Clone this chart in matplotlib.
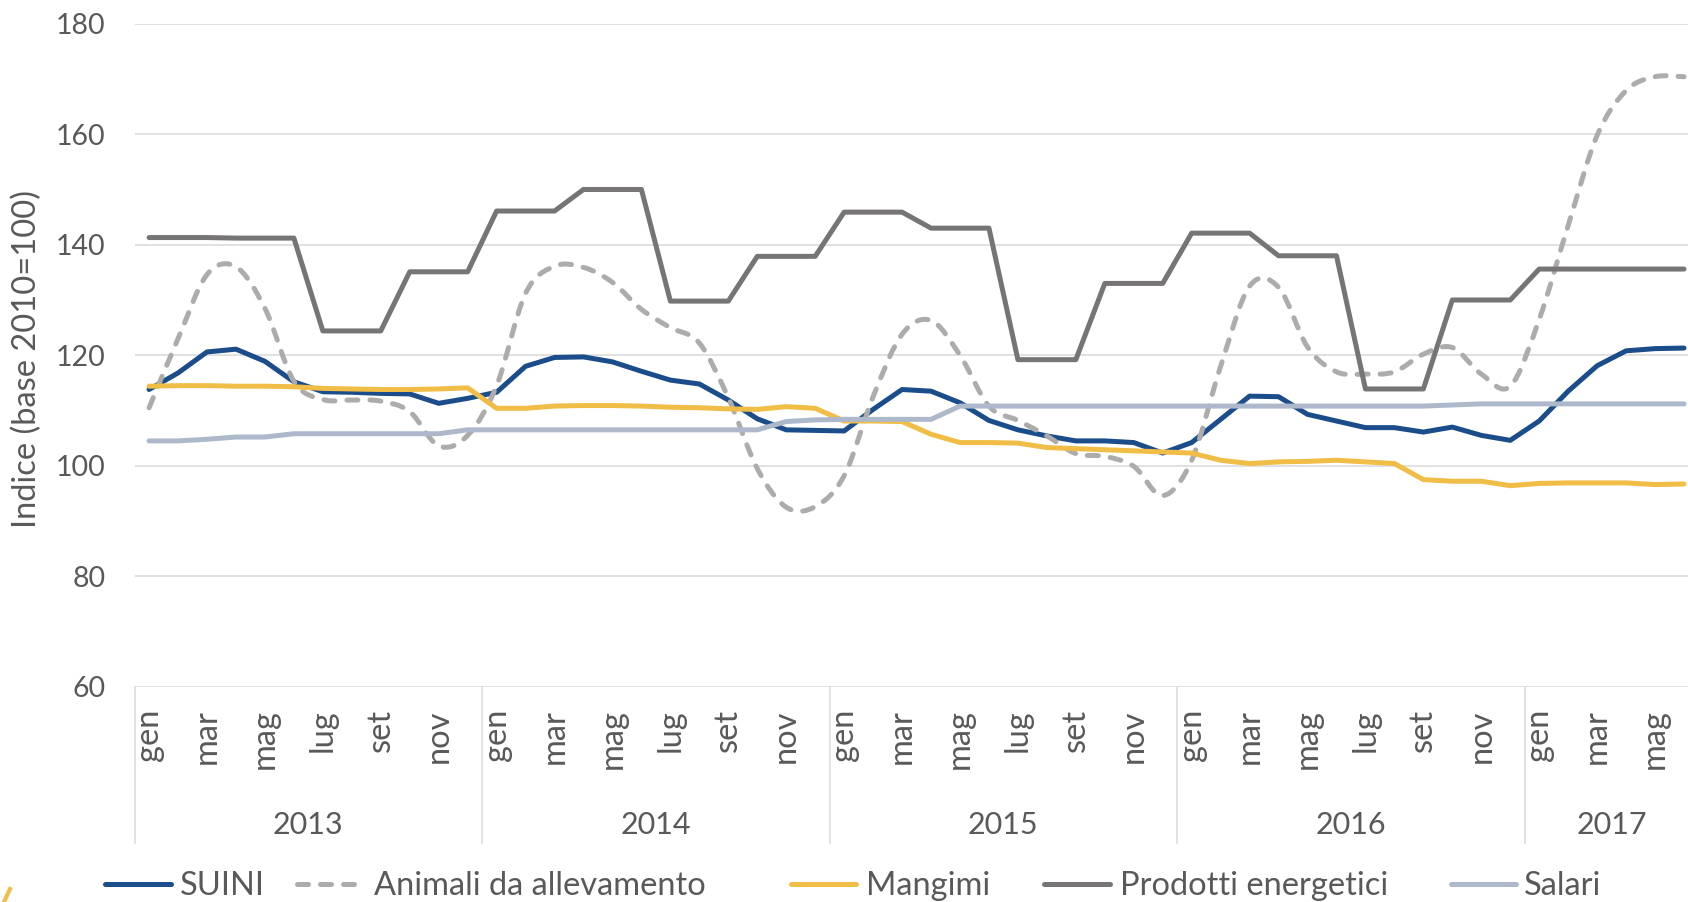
import matplotlib
matplotlib.use("Agg")
import matplotlib.pyplot as plt
from matplotlib.lines import Line2D
from matplotlib.path import Path
from matplotlib.patches import PathPatch

plt.rcParams['font.family'] = ['Lato', 'DejaVu Sans']

# --- data (indici, base 2010=100), gen 2013 - giu 2017 ---
years = ['2013', '2014', '2015', '2016', '2017']
month_names = ['gen', 'feb', 'mar', 'apr', 'mag', 'giu',
               'lug', 'ago', 'set', 'ott', 'nov', 'dic']

suini = [113.8, 116.8, 120.6, 121.1, 118.9, 115.2, 113.4, 113.3, 113.1, 113.0, 111.3, 112.2,
         113.3, 118.0, 119.6, 119.7, 118.8, 117.1, 115.5, 114.8, 111.9, 108.5, 106.5, 106.4,
         106.3, 110.2, 113.8, 113.5, 111.4, 108.2, 106.5, 105.4, 104.5, 104.5, 104.2, 102.3,
         104.2, 108.4, 112.6, 112.5, 109.3, 108.1, 106.9, 106.9, 106.1, 107.0, 105.5, 104.6,
         108.1, 113.5, 118.1, 120.8, 121.2, 121.3]

animali = [110.5, 123.0, 134.6, 136.0, 128.5, 115.3, 112.0, 111.9, 111.7, 109.8, 103.6, 105.5,
           114.5, 131.2, 136.1, 135.9, 133.2, 128.3, 125.0, 122.2, 112.3, 99.5, 92.5, 92.6,
           98.2, 112.5, 123.8, 126.3, 120.0, 110.8, 108.2, 105.4, 102.2, 101.7, 99.9, 94.6,
           101.0, 118.0, 132.5, 132.3, 121.5, 117.0, 116.6, 117.0, 120.2, 121.4, 116.6, 114.4,
           126.5, 143.5, 159.8, 167.9, 170.4, 170.4]

mangimi = [114.4, 114.5, 114.5, 114.4, 114.4, 114.3, 114.0, 113.9, 113.8, 113.8, 113.9, 114.1,
           110.4, 110.4, 110.8, 110.9, 110.9, 110.8, 110.6, 110.5, 110.3, 110.2, 110.7, 110.4,
           108.1, 108.1, 108.0, 105.7, 104.2, 104.2, 104.1, 103.3, 103.1, 102.9, 102.7, 102.5,
           102.3, 101.0, 100.4, 100.7, 100.8, 101.0, 100.7, 100.4, 97.5, 97.2, 97.2, 96.4,
           96.8, 96.9, 96.9, 96.9, 96.6, 96.7]

energetici = [141.3, 141.3, 141.3, 141.2, 141.2, 141.2, 124.4, 124.4, 124.4, 135.1, 135.1, 135.1,
              146.1, 146.1, 146.1, 150.0, 150.0, 150.0, 129.8, 129.8, 129.8, 137.9, 137.9, 137.9,
              145.9, 145.9, 145.9, 143.0, 143.0, 143.0, 119.2, 119.2, 119.2, 133.0, 133.0, 133.0,
              142.1, 142.1, 142.1, 138.0, 138.0, 138.0, 113.9, 113.9, 113.9, 130.0, 130.0, 130.0,
              135.6, 135.6, 135.6, 135.6, 135.6, 135.6]

salari = [104.5, 104.5, 104.8, 105.2, 105.2, 105.8, 105.8, 105.8, 105.8, 105.8, 105.8, 106.5,
          106.5, 106.5, 106.5, 106.5, 106.5, 106.5, 106.5, 106.5, 106.5, 106.5, 108.0, 108.3,
          108.4, 108.4, 108.4, 108.4, 110.8, 110.8, 110.8, 110.8, 110.8, 110.8, 110.8, 110.8,
          110.8, 110.8, 110.8, 110.8, 110.8, 110.8, 110.8, 110.8, 110.8, 111.0, 111.2, 111.2,
          111.2, 111.2, 111.2, 111.2, 111.2, 111.2]

names = ['SUINI', 'Animali da allevamento', 'Mangimi', 'Prodotti energetici', 'Salari']

c_suini = '#1B4D8A'
c_animali = '#AEABAB'
c_mangimi = '#F0BD46'
c_energ = '#767474'
c_salari = '#ADB9CB'
c_grid = '#D9D9D9'
c_text = '#595959'

n = len(suini)
x = list(range(n))
labels = [month_names[i % 12] for i in x]


def smooth_path(xs, ys):
    # bezier come la "linea smussata" di Excel
    verts = [(xs[0], ys[0])]
    codes = [Path.MOVETO]
    m = len(xs)
    for k in range(m - 1):
        xa, ya = (xs[k - 1], ys[k - 1]) if k > 0 else (xs[k], ys[k])
        xb, yb = (xs[k + 2], ys[k + 2]) if k + 2 < m else (xs[k + 1], ys[k + 1])
        c1 = (xs[k] + (xs[k + 1] - xa) / 6, ys[k] + (ys[k + 1] - ya) / 6)
        c2 = (xs[k + 1] - (xb - xs[k]) / 6, ys[k + 1] - (yb - ys[k]) / 6)
        verts += [c1, c2, (xs[k + 1], ys[k + 1])]
        codes += [Path.CURVE4] * 3
    return Path(verts, codes)


W, H = 1688, 902
fig = plt.figure(figsize=(W / 100, H / 100), dpi=100)
left, right = 134.6, 1698.5
top, bottom = 23.7, 686.8
ax = fig.add_axes([left / W, 1 - bottom / H, (right - left) / W, (bottom - top) / H])

lw = 3.6
dash = (0, (2.2, 2.4))
solid = dict(lw=lw, solid_capstyle='round', solid_joinstyle='round')
ax.plot(x, suini, color=c_suini, zorder=3, **solid)
ax.add_patch(PathPatch(smooth_path(x, animali), fill=False, edgecolor=c_animali, lw=lw,
                       linestyle=dash, capstyle='round', zorder=4))
ax.plot(x, mangimi, color=c_mangimi, zorder=5, **solid)
ax.plot(x, energetici, color=c_energ, zorder=6, **solid)
ax.plot(x, salari, color=c_salari, zorder=7, **solid)

ax.set_xlim(-0.5, n - 0.5)
ax.set_ylim(60, 180)
ax.set_yticks(range(60, 181, 20))
ax.grid(axis='y', color=c_grid, lw=1.1)
ax.set_axisbelow(True)
for s in ['top', 'right', 'left', 'bottom']:
    ax.spines[s].set_visible(False)

ax.tick_params(axis='y', length=0, pad=21, labelsize=20.5, labelcolor=c_text)
ax.set_xticks(x[::2])
ax.set_xticklabels(labels[::2], rotation=90, fontsize=23.5, color=c_text)
ax.tick_params(axis='x', length=0, pad=16)

fig.text(27 / W, 1 - 359 / H, 'Indice (base 2010=100)', rotation=90, ha='center', va='center',
         fontsize=23.5, color=c_text)

# etichette anni e separatori
xt = ax.get_xaxis_transform()
for k, yr in enumerate(years):
    start = k * 12 - 0.5
    end = min(start + 12, n - 0.5)
    ax.text((start + end) / 2, -0.2084, yr, transform=xt, ha='center', va='center',
            fontsize=22, color=c_text)
    ax.plot([start, start], [0, -0.2355], transform=xt, color=c_grid, lw=1.1, clip_on=False)

# legenda disegnata a mano (posizioni in pixel della figura)
styles = [dict(color=c_suini, solid_capstyle='round'),
          dict(color=c_animali, linestyle=dash, dash_capstyle='round'),
          dict(color=c_mangimi, solid_capstyle='round'),
          dict(color=c_energ, solid_capstyle='round'),
          dict(color=c_salari, solid_capstyle='round')]
handle_x = [(105, 171), (297, 360), (791, 856), (1044, 1110), (1451, 1516)]
text_x = [180, 374, 866, 1120, 1524]
y_line = 1 - 884 / H
y_base = 1 - 895 / H
for (h0, h1), tx, st, name in zip(handle_x, text_x, styles, names):
    fig.add_artist(Line2D([h0 / W, h1 / W], [y_line, y_line], lw=lw, **st))
    fig.text(tx / W, y_base, name, ha='left', va='baseline', fontsize=23.5, color=c_text)

# pezzetto di logo in basso a sinistra
fig.add_artist(Line2D([4 / W, 10 / W], [0, 13 / H], color=c_mangimi, lw=3))

fig.savefig('out.png', dpi=100)
